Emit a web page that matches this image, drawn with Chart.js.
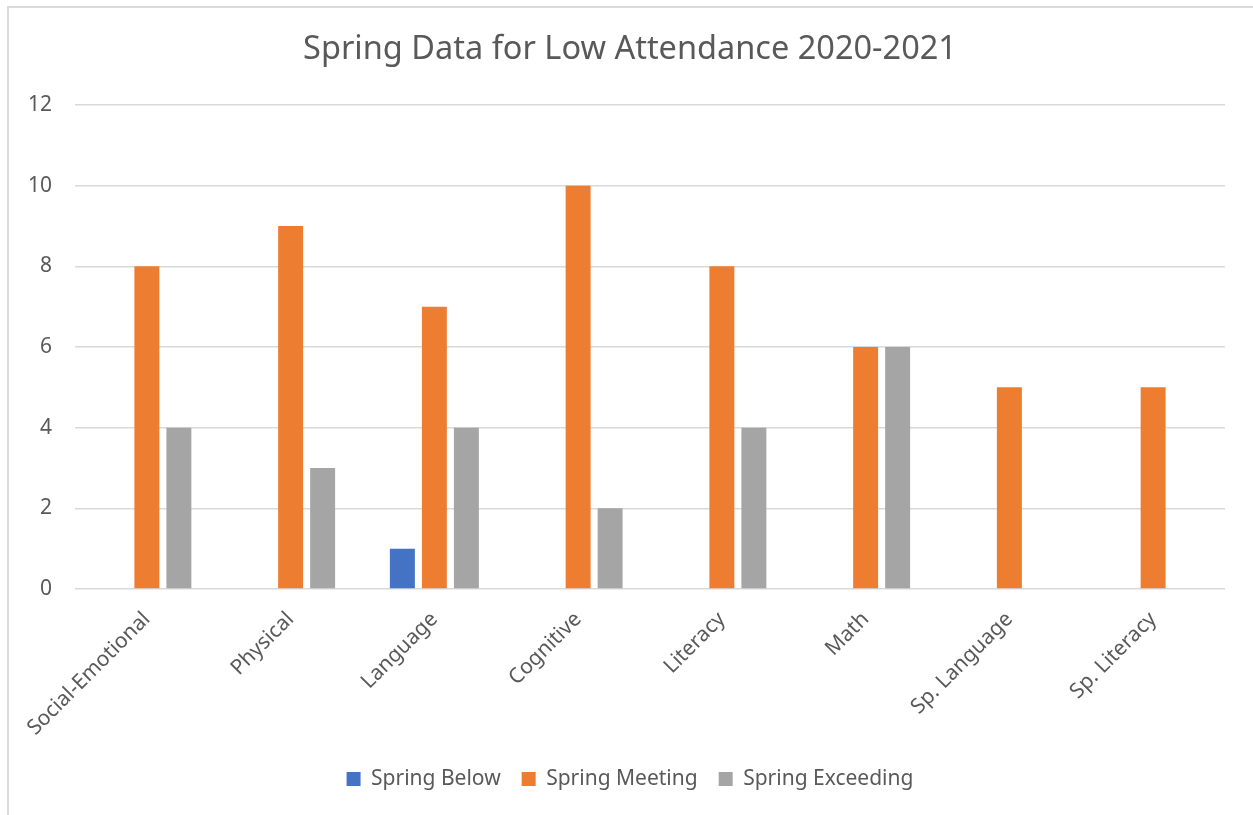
<!DOCTYPE html>
<html lang="en">
<head>
    <meta charset="UTF-8">
    <title>Spring Data for Low Attendance 2020-2021</title>
    <script src="https://cdn.jsdelivr.net/npm/chart.js"></script>
    <style>
        body {
            margin: 0;
            padding: 0;
            background: #fff;
            overflow: hidden;
        }
        .frame {
            position: absolute;
            left: 7px;
            top: 6px;
            width: 1300px;
            height: 900px;
            border-left: 2px solid #d9d9d9;
            border-top: 2px solid #d9d9d9;
        }
        .chart-container {
            position: absolute;
            left: 0;
            top: 0;
            width: 1253px;
            height: 815px;
        }
    </style>
</head>
<body>
    <div class="frame"></div>
    <div class="chart-container">
        <canvas id="springChart"></canvas>
    </div>

    <script>
        // chart data
        const categories = ['Social-Emotional', 'Physical', 'Language', 'Cognitive', 'Literacy', 'Math', 'Sp. Language', 'Sp. Literacy'];
        const springBelow = [0, 0, 1, 0, 0, 0, 0, 0];
        const springMeeting = [8, 9, 7, 10, 8, 6, 5, 5];
        const springExceeding = [4, 3, 4, 2, 4, 6, 0, 0];

        const textColor = '#595959';
        const gridColor = '#d9d9d9';
        const fontFamily = '"Noto Sans", "Open Sans", sans-serif';

        const ctx = document.getElementById('springChart').getContext('2d');
        const springChart = new Chart(ctx, {
            type: 'bar',
            data: {
                labels: categories,
                datasets: [
                    { label: 'Spring Below', data: springBelow, backgroundColor: '#4472C4' },
                    { label: 'Spring Meeting', data: springMeeting, backgroundColor: '#ED7D31' },
                    { label: 'Spring Exceeding', data: springExceeding, backgroundColor: '#A5A5A5' }
                ]
            },
            options: {
                responsive: true,
                maintainAspectRatio: false,
                animation: false,
                categoryPercentage: 0.668,
                barPercentage: 0.78,
                layout: {
                    padding: { left: 0, right: -7, top: 0, bottom: 15.5 }
                },
                plugins: {
                    title: {
                        display: true,
                        text: 'Spring Data for Low Attendance 2020-2021',
                        color: textColor,
                        font: { family: fontFamily, size: 32.5, weight: 'normal' },
                        padding: { top: 30, bottom: 36 }
                    },
                    legend: {
                        position: 'bottom',
                        labels: {
                            color: textColor,
                            font: { family: fontFamily, size: 21 },
                            boxWidth: 14,
                            boxHeight: 14,
                            padding: 21
                        }
                    },
                    tooltip: { enabled: false }
                },
                scales: {
                    x: {
                        grid: { display: false, drawTicks: false },
                        border: { display: false },
                        ticks: {
                            color: textColor,
                            font: { family: fontFamily, size: 21 },
                            minRotation: 45,
                            maxRotation: 45,
                            padding: 18
                        },
                        afterFit: function (scale) { scale.height = 158.5; }
                    },
                    y: {
                        min: 0,
                        max: 12,
                        grid: { color: gridColor, lineWidth: 1.5, drawTicks: false },
                        border: { display: false },
                        ticks: {
                            stepSize: 2,
                            color: textColor,
                            font: { family: fontFamily, size: 21 },
                            padding: 23
                        },
                        afterFit: function (scale) { scale.width = 75; }
                    },
                    // empty right-hand axis, only keeps the right margin
                    yRight: {
                        position: 'right',
                        grid: { display: false, drawTicks: false },
                        border: { display: false },
                        ticks: { display: false },
                        afterFit: function (scale) { scale.width = 35; }
                    }
                }
            }
        });
    </script>
</body>
</html>
